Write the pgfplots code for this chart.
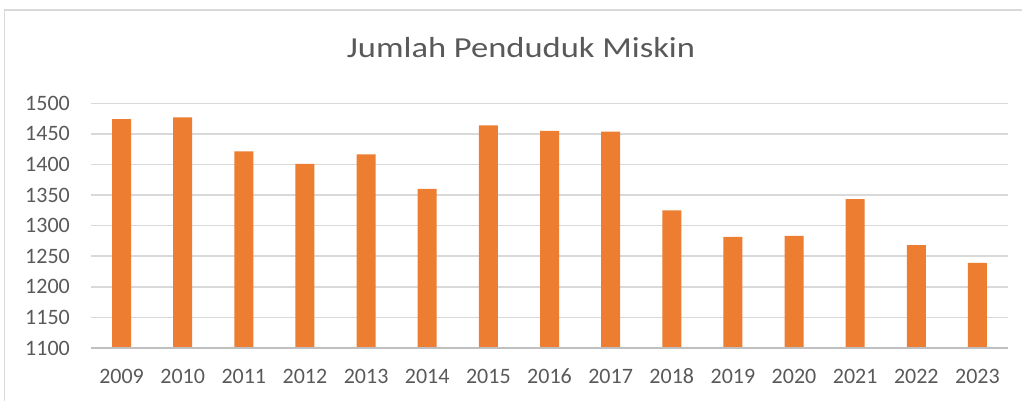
\documentclass[border=0pt]{standalone}
\usepackage{pgfplots}
\pgfplotsset{compat=1.18}
\usepackage{fontspec}
\setmainfont{Carlito}
\usepackage{graphicx}
\definecolor{barc}{HTML}{ED7D31}
\definecolor{gridc}{HTML}{D9D9D9}
\definecolor{axisc}{HTML}{BFBFBF}
\definecolor{txt}{HTML}{595959}
\begin{document}
\begin{tikzpicture}[x=1pt,y=1pt]
\useasboundingbox (0,0) rectangle (1022,400);
\draw[gridc, line width=1.5pt] (4.5,-20) -- (4.5,390) -- (1040,390);
\node[anchor=base, text=txt, inner sep=0pt] at (521,342.5) {\scalebox{1.19}[1]{\fontsize{29}{34}\selectfont Jumlah Penduduk Miskin}};
\begin{axis}[
  at={(91pt,52pt)}, anchor=south west,
  scale only axis, width=917pt, height=244.7pt,
  xmin=-0.5, xmax=14.5, ymin=1100, ymax=1500,
  ytick={1100,1150,...,1500},
  xtick={0,...,14},
  xticklabels={2009,2010,2011,2012,2013,2014,2015,2016,2017,2018,2019,2020,2021,2022,2023},
  axis line style={draw=none},
  major tick length=0pt,
  ymajorgrids, grid style={gridc, line width=1.5pt},
  tick label style={text=txt, font=\fontsize{22}{26}\selectfont, inner sep=0pt},
  yticklabel style={anchor=east, xshift=-21pt},
  xticklabel style={anchor=base, yshift=-35.3pt},
  /pgf/number format/assume math mode=true,
  /pgf/number format/set thousands separator={},
  clip=false,
]
\addplot[ybar, bar width=19pt, fill=barc, draw=none] coordinates {
(0,1474) (1,1477) (2,1421.6) (3,1401) (4,1416.7) (5,1360) (6,1464)
(7,1455) (8,1453.6) (9,1325) (10,1281.7) (11,1283.4) (12,1343.2) (13,1268) (14,1239.3)
};
\draw[axisc, line width=1.5pt] (axis cs:-0.5,1100) -- (axis cs:14.5,1100);
\end{axis}
\end{tikzpicture}
\end{document}
